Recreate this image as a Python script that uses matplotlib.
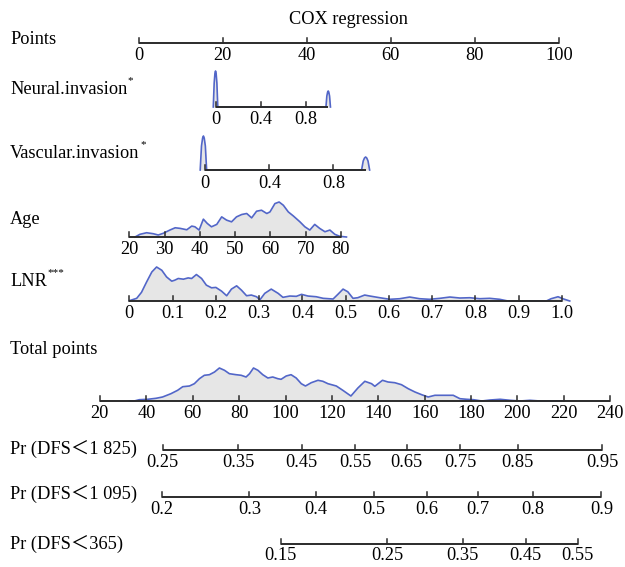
import matplotlib
matplotlib.use("Agg")
import matplotlib.pyplot as plt
import numpy as np

plt.rcParams['font.family'] = ['Liberation Serif', 'Noto Sans CJK SC', 'DejaVu Sans']

# ---- nomogram data ----
points_ticks = [0, 20, 40, 60, 80, 100]

# predictor value -> points (ends of each scale)
neural_map = ([0, 1], [18.3, 45.1])
neural_ticks = [0, 0.4, 0.8]
neural_vals = [-0.02, -0.012, -0.005, 0.0, 0.005, 0.012, 0.02, 0.98, 0.988, 0.995, 1.0, 1.005, 1.012, 1.02]
neural_dens = [0, 24, 34, 36, 34, 24, 0, 0, 11, 15, 16, 15, 11, 0]

vascular_map = ([0, 1], [15.8, 54.0])
vascular_ticks = [0, 0.4, 0.8]
vascular_vals = [-0.03, -0.022, -0.015, -0.01, -0.005, 0.002, 0.01, 0.975, 0.985, 0.993, 1.0, 1.007, 1.015, 1.025]
vascular_dens = [0, 24, 32, 34, 32, 24, 0, 0, 9, 12, 13, 12, 9, 0]

age_map = ([20, 80], [-2.2, 48.1])
age_ticks = [20, 30, 40, 50, 60, 70, 80]
age_vals = [21.6, 23.0, 24.9, 26.8, 28.2, 29.6, 31.5, 33.0, 34.4, 36.3, 37.7, 38.6, 39.8, 41.0, 42.1,
            43.3, 44.8, 46.2, 47.6, 49.0, 50.4, 51.9, 53.3, 54.7, 56.1, 57.5, 59.0, 59.9, 61.3, 62.5,
            63.7, 65.1, 66.5, 68.4, 69.8, 71.2, 72.6, 74.0, 75.5, 76.9, 78.3, 79.7, 81.6]
age_dens = [0, 2.7, 4.3, 3.3, 2.0, 3.7, 7.0, 9.3, 8.7, 7.3, 11.0, 10.3, 7.0, 18.0, 13.7,
            10.3, 12.7, 20.3, 17.0, 15.3, 20.3, 22.7, 23.7, 19.3, 26.0, 27.0, 23.7, 25.3, 33.7, 35.3,
            32.0, 25.3, 21.3, 15.3, 10.3, 7.0, 12.7, 8.7, 5.3, 7.0, 2.7, 0.7, 0]

lnr_map = ([0, 1], [-2.2, 100.7])
lnr_ticks = [0, 0.1, 0.2, 0.3, 0.4, 0.5, 0.6, 0.7, 0.8, 0.9, 1.0]
lnr_labels = ['0', '0.1', '0.2', '0.3', '0.4', '0.5', '0.6', '0.7', '0.8', '0.9', '1.0']
lnr_vals = [0.0, 0.017, 0.028, 0.040, 0.052, 0.063, 0.075, 0.086, 0.098, 0.105, 0.113, 0.125, 0.136,
            0.144, 0.155, 0.167, 0.178, 0.190, 0.200, 0.213, 0.225, 0.236, 0.248, 0.259, 0.271, 0.282,
            0.294, 0.302, 0.313, 0.328, 0.344, 0.355, 0.371, 0.386, 0.398, 0.413, 0.432, 0.448, 0.471,
            0.482, 0.494, 0.505, 0.517, 0.528, 0.544, 0.556, 0.579, 0.602, 0.625, 0.648, 0.671, 0.694,
            0.718, 0.741, 0.764, 0.787, 0.810, 0.833, 0.856, 0.875, 0.900, 0.964, 0.975, 0.991, 1.002, 1.018]
lnr_dens = [0.3, 2.7, 8.7, 19.3, 29.3, 34.3, 31.0, 24.3, 20.0, 21.0, 22.7, 22.0, 23.3,
            22.7, 26.7, 22.7, 16.0, 13.3, 13.7, 10.0, 5.3, 12.0, 15.3, 11.0, 5.3, 6.0,
            4.3, 1.3, 7.7, 12.0, 7.7, 3.7, 5.0, 4.7, 6.7, 5.0, 4.3, 2.7, 2.0,
            6.7, 12.0, 9.3, 2.7, 3.3, 6.0, 5.0, 3.3, 1.7, 2.3, 4.0, 2.3, 1.7,
            2.7, 4.0, 3.0, 3.3, 2.3, 2.7, 1.7, 0, 0, 0, 2.3, 4.3, 2.3, 0]

total_map = ([20, 240], [-9.2, 112.2])
total_ticks = [20, 40, 60, 80, 100, 120, 140, 160, 180, 200, 220, 240]
total_vals = [32.7, 34.8, 37.0, 40.6, 44.2, 47.0, 50.6, 53.5, 55.7, 58.6, 60.7, 62.9, 65.0, 67.2,
              69.4, 71.5, 73.7, 75.8, 78.7, 80.9, 83.0, 84.5, 86.2, 88.1, 90.2, 92.4, 94.5, 96.7,
              98.1, 100.3, 102.4, 104.6, 106.8, 108.6, 111.1, 114.0, 116.1, 118.3, 121.9, 124.7,
              128.2, 131.2, 134.2, 137.1, 138.5, 141.8, 144.2, 147.1, 150.0, 152.9, 155.8, 158.7,
              161.5, 164.4, 168.0, 172.3, 175.2, 178.1, 181.0, 184.6, 188.2, 192.5, 196.8, 201.1,
              205.4, 209.7, 212.6, 219.8]
total_dens = [0, 0, 1.3, 1.7, 2.7, 4.0, 7.3, 10.7, 14.3, 15.0, 17.3, 22.3, 25.7, 26.3,
              29.0, 33.0, 30.7, 27.3, 26.3, 25.7, 24.0, 27.3, 33.0, 30.7, 26.3, 23.0, 24.0, 22.3,
              21.7, 25.0, 26.3, 23.0, 17.3, 15.0, 18.3, 20.7, 19.7, 17.3, 15.0, 10.7,
              5.0, 13.0, 19.7, 17.3, 14.7, 20.7, 19.0, 18.3, 16.3, 12.3, 9.0, 6.3,
              4.0, 5.7, 5.7, 5.7, 2.3, 1.7, 1.3, 0, 1.0, 1.7, 0.7, 0,
              0.7, 0, 0, 0]

# survival probabilities and the total points where they sit
pr1825_labels = ['0.25', '0.35', '0.45', '0.55', '0.65', '0.75', '0.85', '0.95']
pr1825_total = [47.0, 79.7, 106.9, 130.1, 152.3, 175.2, 200.1, 236.5]
pr1095_labels = ['0.2', '0.3', '0.4', '0.5', '0.6', '0.7', '0.8', '0.9']
pr1095_total = [46.7, 84.4, 113.2, 138.2, 160.9, 182.9, 206.6, 236.2]
pr365_labels = ['0.15', '0.25', '0.35', '0.45', '0.55']
pr365_total = [97.9, 143.8, 176.4, 203.5, 225.9]

# ---- style / layout ----
W, H = 625, 567
FS = 13.2
AX_C = '#2b2b2b'
LINE_C = '#5266c8'
FILL_C = '#e6e6e6'
TICK = 5
LAB_DY = 13
PX0, PX_PER = 138.6, 4.204   # pixel of 0 points, pixels per point

fig = plt.figure(figsize=(W / 100, H / 100), dpi=100)
ax = fig.add_axes([0, 0, 1, 1])
ax.set_xlim(-PX0 / PX_PER, (W - PX0) / PX_PER)
ax.set_ylim(H, 0)
ax.axis('off')
renderer = fig.canvas.get_renderer()


def lin(v, m):
    (v0, v1), (p0, p1) = m
    return p0 + (np.asarray(v, float) - v0) * (p1 - p0) / (v1 - v0)


def scale_row(y, xs, labels, x0=None, x1=None, dy=LAB_DY):
    xs = list(xs)
    x0 = xs[0] if x0 is None else x0
    x1 = xs[-1] if x1 is None else x1
    ax.plot([x0, x1], [y, y], color=AX_C, lw=1.4, solid_capstyle='butt', zorder=3)
    for x, lab in zip(xs, labels):
        ax.plot([x, x], [y, y - TICK], color=AX_C, lw=1.1, zorder=3)
        ax.text(x, y + dy, lab, ha='center', va='center', fontsize=FS)


def density(y, xs, d, peak):
    d = np.asarray(d, float)
    h = d / d.max() * peak
    ax.fill_between(xs, y, y - h, color=FILL_C, lw=0, zorder=1)
    ax.plot(xs, y - h, color=LINE_C, lw=1.2, zorder=2)


def row_label(y, s, sup=None):
    t = ax.text(10 / W, y, s, transform=ax.get_yaxis_transform(), ha='left', va='center', fontsize=FS)
    if sup:
        bb = t.get_window_extent(renderer=renderer)
        ax.annotate(sup, xy=(bb.x1, bb.y1), xycoords='figure pixels', xytext=(0.5, 3.5),
                    textcoords='offset points', fontsize=8, ha='left', va='top')


fmt = lambda v: f"{v:g}"

# title
ax.text(50, 19, 'COX regression', ha='center', va='center', fontsize=FS)

# Points
row_label(40, 'Points')
scale_row(43, points_ticks, [fmt(v) for v in points_ticks], dy=12)

# Neural invasion
row_label(89, 'Neural.invasion', '*')
density(107, lin(neural_vals, neural_map), neural_dens, 36)
scale_row(107, lin(neural_ticks, neural_map), [fmt(v) for v in neural_ticks], x1=lin(1, neural_map))

# Vascular invasion
row_label(153, 'Vascular.invasion', '*')
density(170, lin(vascular_vals, vascular_map), vascular_dens, 34)
scale_row(170, lin(vascular_ticks, vascular_map), [fmt(v) for v in vascular_ticks], x1=lin(1, vascular_map))

# Age
row_label(219, 'Age')
density(237, lin(age_vals, age_map), age_dens, 35)
scale_row(237, lin(age_ticks, age_map), [fmt(v) for v in age_ticks])

# LNR
row_label(281, 'LNR', '***')
density(301, lin(lnr_vals, lnr_map), lnr_dens, 34)
scale_row(301, lin(lnr_ticks, lnr_map), lnr_labels)

# Total points
row_label(349, 'Total points')
density(401, lin(total_vals, total_map), total_dens, 33)
scale_row(401, lin(total_ticks, total_map), [fmt(v) for v in total_ticks], dy=12)

# probabilities
row_label(450, 'Pr (DFS＜1 825)')
scale_row(450, lin(pr1825_total, total_map), pr1825_labels, dy=12.5)
row_label(495, 'Pr (DFS＜1 095)')
scale_row(497, lin(pr1095_total, total_map), pr1095_labels, dy=12.5)
row_label(545, 'Pr (DFS＜365)')
scale_row(544, lin(pr365_total, total_map), pr365_labels, dy=11.5)

fig.savefig('out.png', dpi=100)
